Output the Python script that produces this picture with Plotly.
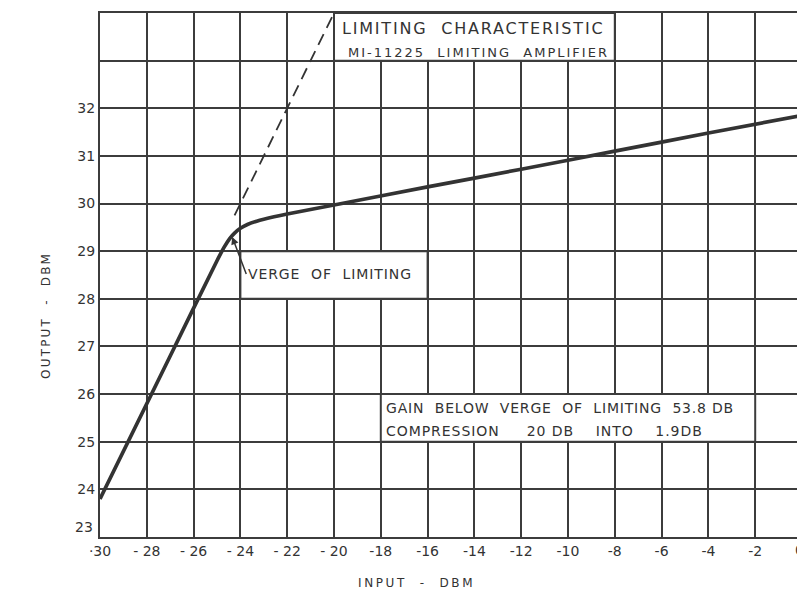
import plotly.graph_objects as go

# Limiting characteristic
input_dbm = [-30, -27, -25, -24.7, -24.45, -24.25, -24.0, -23.7, -23.3, -23.0, -22, -20, -16, -12, -8, -4, 0]
output_dbm = [23.8, 26.8, 28.8, 29.08, 29.27, 29.38, 29.48, 29.56, 29.63, 29.67, 29.78, 29.97, 30.35, 30.72, 31.1, 31.48, 31.85]

# Extrapolated linear gain (dashed)
dash_input = [-24.25, -20.0]
dash_output = [29.75, 34.0]

x_tickvals = list(range(-30, 1, 2))
x_ticktext = ["·30", "- 28", "- 26", "- 24", "- 22", "- 20", "-18", "-16", "-14", "-12", "-10", "-8", "-6", "-4", "-2", ""]
y_tickvals = list(range(23, 35))
y_ticktext = ["", "24", "25", "26", "27", "28", "29", "30", "31", "32", "", ""]

title_lines = ["LIMITING  CHARACTERISTIC", "MI-11225  LIMITING  AMPLIFIER"]
gain_lines = ["GAIN  BELOW  VERGE  OF  LIMITING  53.8 DB", "COMPRESSION     20 DB    INTO    1.9DB"]
verge_label = "VERGE  OF  LIMITING"
x_title = "INPUT  -  DBM"
y_title = "OUTPUT  -  DBM"

INK = "#333333"
GRID = "#3c3c3c"
FONT = "DejaVu Sans"

# page has an 8px body margin; size the figure so the plot lands where the reference has it
OFF = 8
W, H = 805 - OFF, 590 - OFF
ML, MR, MT, MB = 100 - OFF, 3, 13 - OFF, 53


def spaced(t, px):
    return f'<span style="letter-spacing:{px}px">{t}</span>'


fig = go.Figure()
fig.add_trace(go.Scatter(x=dash_input, y=dash_output, mode="lines",
                         line=dict(color=INK, width=1.8, dash="12px,7px"), hoverinfo="skip"))
fig.add_trace(go.Scatter(x=input_dbm, y=output_dbm, mode="lines",
                         line=dict(color=INK, width=3.7, shape="spline", smoothing=0.6), hoverinfo="skip"))

# White label cells covering gridlines
boxes = [(-20, -8, 33, 34), (-24, -16, 28, 29), (-18, -2, 25, 26)]
for x0, x1, y0, y1 in boxes:
    fig.add_shape(type="rect", xref="x", yref="y", x0=x0, x1=x1, y0=y0, y1=y1,
                  fillcolor="white", line=dict(color=GRID, width=2), layer="between")

fig.add_annotation(x=-19.75, y=33.68, xref="x", yref="y", text=spaced(title_lines[0], 1.8), showarrow=False,
                   xanchor="left", font=dict(family=FONT, size=16, color=INK))
fig.add_annotation(x=-19.5, y=33.18, xref="x", yref="y", text=spaced(title_lines[1], 2.0), showarrow=False,
                   xanchor="left", font=dict(family=FONT, size=13, color=INK))
fig.add_annotation(x=-17.85, y=25.7, xref="x", yref="y", text=spaced(gain_lines[0], 0.8), showarrow=False,
                   xanchor="left", font=dict(family=FONT, size=14, color=INK))
fig.add_annotation(x=-17.85, y=25.23, xref="x", yref="y", text=spaced(gain_lines[1], 0.95), showarrow=False,
                   xanchor="left", font=dict(family=FONT, size=14, color=INK))
fig.add_annotation(x=-24.35, y=29.3, xref="x", yref="y", text=spaced(verge_label, 0.9), showarrow=True,
                   ax=-23.75, ay=28.52, axref="x", ayref="y", xanchor="left", yanchor="middle",
                   arrowhead=2, arrowsize=1, arrowwidth=1.5, arrowcolor=INK,
                   font=dict(family=FONT, size=14, color=INK), standoff=0)

# Edge tick labels placed individually
fig.add_annotation(x=0, y=23, xref="x", yref="y", text="0", showarrow=False, xanchor="right", yanchor="top",
                   xshift=4, yshift=-3, font=dict(family=FONT, size=14, color=INK))
fig.add_annotation(x=-30, y=23, xref="x", yref="y", text="23", showarrow=False, xanchor="right", yanchor="middle",
                   xshift=-5, yshift=10, font=dict(family=FONT, size=14, color=INK))

# Axis titles (screen pixel positions)
fig.add_annotation(x=416, y=583, xref="paper", yref="paper", text=spaced(x_title, 2.6), showarrow=False,
                   xanchor="center", yanchor="middle", font=dict(family=FONT, size=12, color=INK))
fig.add_annotation(x=46, y=316, xref="paper", yref="paper", text=spaced(y_title, 2.2), showarrow=False,
                   xanchor="center", yanchor="middle", textangle=-90, font=dict(family=FONT, size=12, color=INK))

fig.update_xaxes(range=[-30, 0], tickvals=x_tickvals, ticktext=x_ticktext, automargin=False,
                 showgrid=True, gridcolor=GRID, gridwidth=2, zeroline=False,
                 showline=True, linecolor=GRID, linewidth=2, mirror=True,
                 ticks="", tickfont=dict(family=FONT, size=14, color=INK))
fig.update_yaxes(range=[23, 34], tickvals=y_tickvals, ticktext=y_ticktext, automargin=False,
                 showgrid=True, gridcolor=GRID, gridwidth=2, zeroline=False,
                 showline=True, linecolor=GRID, linewidth=2, mirror=True,
                 ticks="", tickfont=dict(family=FONT, size=14, color=INK))

fig.update_layout(width=W, height=H, margin=dict(l=ML, r=MR, t=MT, b=MB),
                  plot_bgcolor="white", paper_bgcolor="white", showlegend=False)

# convert screen-pixel annotation positions to paper fractions
pw, ph = W - ML - MR, H - MT - MB
for a in fig.layout.annotations:
    if a.xref == "paper":
        sx, sy = a.x - OFF, a.y - OFF
        a.x = (sx - ML) / pw
        a.y = (H - MB - sy) / ph

fig.write_html("out.html")
